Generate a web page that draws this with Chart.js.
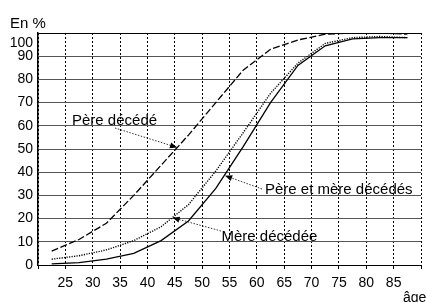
<!DOCTYPE html>
<html>
<head>
<meta charset="utf-8">
<script src="https://cdn.jsdelivr.net/npm/chart.js@4/dist/chart.umd.min.js"></script>
<style>
html, body { margin: 0; padding: 0; background: #fff; }
</style>
</head>
<body>
<canvas id="AgeChart" width="427" height="302"></canvas>
<script>
// Part des personnes dont les parents sont décédés, selon l'âge
var ages = [22.5, 27.5, 32.5, 37.5, 42.5, 47.5, 52.5, 57.5, 62.5, 67.5, 72.5, 77.5, 82.5, 87.5];
var pereDecede = [6, 11, 18, 30, 43, 56, 70, 84, 93, 97, 99.5, 100, 100, 99.5];
var mereDecedee = [2.5, 4, 6.5, 10.5, 16.5, 26, 40.5, 57, 74, 87, 95.5, 98, 98.5, 98];
var pereEtMere = [0.5, 1, 2.5, 5, 10.5, 19, 33, 51, 70, 86, 94.5, 97.5, 98, 98];
var xTicks = [25, 30, 35, 40, 45, 50, 55, 60, 65, 70, 75, 80, 85];
var yTicks = [0, 10, 20, 30, 40, 50, 60, 70, 80, 90, 100];

var tickFont = { family: 'Arial, "Liberation Sans", sans-serif', size: 14 };
var textFont = '15px Arial, "Liberation Sans", sans-serif';

// labels with their arrows (arrow tip given in data units)
var notes = [
    { text: 'Père décédé', x: 72, y: 125, from: [115, 128], tip: [45.4, 50.7] },
    { text: 'Père et mère décédés', x: 265, y: 194, from: [262, 189], tip: [54.2, 38.5] },
    { text: 'Mère décédée', x: 221.5, y: 240.5, from: [221, 231], tip: [44.6, 20.4] }
];

function pts(values) {
    return ages.map(function(a, i) { return { x: a, y: values[i] }; });
}

function drawArrow(ctx, x0, y0, x1, y1) {
    ctx.save();
    ctx.strokeStyle = '#333';
    ctx.lineWidth = 1;
    ctx.setLineDash([1.5, 1.5]);
    ctx.beginPath();
    ctx.moveTo(x0, y0);
    ctx.lineTo(x1, y1);
    ctx.stroke();
    var a = Math.atan2(y1 - y0, x1 - x0);
    var len = 7, w = 3;
    ctx.setLineDash([]);
    ctx.fillStyle = '#000';
    ctx.beginPath();
    ctx.moveTo(x1, y1);
    ctx.lineTo(x1 - len * Math.cos(a) + w * Math.sin(a), y1 - len * Math.sin(a) - w * Math.cos(a));
    ctx.lineTo(x1 - len * Math.cos(a) - w * Math.sin(a), y1 - len * Math.sin(a) + w * Math.cos(a));
    ctx.closePath();
    ctx.fill();
    ctx.restore();
}

var annotate = {
    id: 'annotate',
    afterDraw: function(chart) {
        var ctx = chart.ctx;
        var xs = chart.scales.x, ys = chart.scales.y;
        ctx.save();
        ctx.fillStyle = '#000';
        ctx.textBaseline = 'alphabetic';
        ctx.font = textFont;
        ctx.textAlign = 'left';
        ctx.fillText('En %', 10, 28);
        notes.forEach(function(n) {
            ctx.fillText(n.text, n.x, n.y);
            drawArrow(ctx, n.from[0], n.from[1], xs.getPixelForValue(n.tip[0]), ys.getPixelForValue(n.tip[1]));
        });
        ctx.font = '14px Arial, "Liberation Sans", sans-serif';
        ctx.fillText('âge', 403, 302);
        ctx.textAlign = 'right';
        ctx.fillText('100', chart.chartArea.left - 5, 47);
        ctx.restore();
    }
};

var ctx = document.getElementById('AgeChart').getContext('2d');
var ageChart = new Chart(ctx, {
    type: 'line',
    data: {
        datasets: [{
            label: 'Père décédé',
            data: pts(pereDecede),
            borderColor: '#000',
            borderWidth: 1.3,
            borderDash: [7, 2.5]
        }, {
            label: 'Mère décédée',
            data: pts(mereDecedee),
            borderColor: '#000',
            borderWidth: 1.4,
            borderDash: [1.2, 1.3]
        }, {
            label: 'Père et mère décédés',
            data: pts(pereEtMere),
            borderColor: '#000',
            borderWidth: 1.3
        }]
    },
    options: {
        responsive: false,
        animation: false,
        devicePixelRatio: 1,
        layout: { padding: { top: 33, right: 2.5, left: 0, bottom: 0 } },
        elements: { point: { radius: 0 }, line: { tension: 0 } },
        plugins: { legend: { display: false }, tooltip: { enabled: false } },
        scales: {
            x: {
                type: 'linear',
                min: 20,
                max: 90,
                afterBuildTicks: function(scale) {
                    scale.ticks = [20].concat(xTicks, [90]).map(function(v) { return { value: v }; });
                },
                ticks: {
                    color: '#000',
                    font: tickFont,
                    padding: 6,
                    maxRotation: 0,
                    autoSkip: false,
                    callback: function(v) { return xTicks.indexOf(v) >= 0 ? String(v) : ''; }
                },
                grid: { color: '#000', lineWidth: 1, drawTicks: true, tickLength: 4, tickColor: '#000' },
                border: { display: true, color: '#000', width: 1, dash: [2, 2] },
                afterFit: function(scale) { scale.height = 37; }
            },
            y: {
                min: 0,
                max: 100,
                afterBuildTicks: function(scale) {
                    scale.ticks = yTicks.map(function(v) { return { value: v }; });
                },
                ticks: {
                    color: '#000',
                    font: tickFont,
                    padding: 5,
                    callback: function(v) { return v === 100 ? '' : String(v); }
                },
                grid: {
                    color: function(c) { return c.tick && c.tick.value === 100 ? '#000' : '#555'; },
                    lineWidth: 1,
                    drawTicks: false
                },
                border: { display: true, color: '#000', width: 1.5 },
                afterFit: function(scale) { scale.width = 38; }
            }
        }
    },
    plugins: [annotate]
});
</script>
</body>
</html>
